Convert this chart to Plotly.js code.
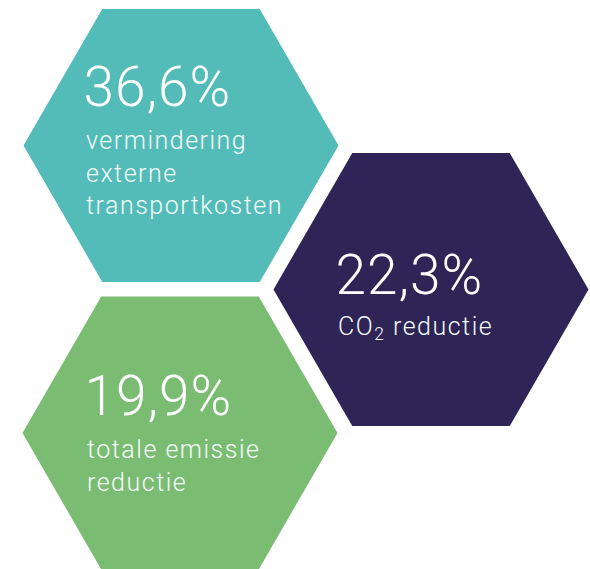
<!DOCTYPE html>
<html>
<head>
<meta charset="utf-8">
<script src="https://cdn.plot.ly/plotly-3.0.1.min.js"></script>
<style>
html,body{margin:0;padding:0;background:#fff;}
#chart{width:590px;height:569px;}
</style>
</head>
<body>
<div id="chart"></div>
<script>
// ---- data ----
var values = [36.6, 22.3, 19.9];
var labels = [
  ["vermindering", "externe", "transportkosten"],
  ["CO<sub>2</sub> reductie"],
  ["totale emissie", "reductie"]
];
var colors = ["#53bcb8", "#2e2455", "#7abd72"];

// ---- layout geometry (pixel space) ----
var W = 590, H = 569;
var centers = [[181, 145.5], [431, 289.5], [180, 433]];
var halfW = 157.5;               // centre to left/right vertex
var textX = [85, 337, 86];

function fmt(v) { return v.toFixed(1).replace('.', ',') + '%'; }

var traces = [];
var annotations = [];
centers.forEach(function (c, i) {
  var xs = [], ys = [];
  for (var k = 0; k <= 6; k++) {
    var a = Math.PI / 3 * k;
    xs.push(c[0] + halfW * Math.cos(a));
    ys.push(c[1] + halfW * Math.sin(a));
  }
  traces.push({
    type: 'scatter', mode: 'lines', x: xs, y: ys,
    fill: 'toself', fillcolor: colors[i],
    line: {width: 0, color: colors[i]}, hoverinfo: 'skip', showlegend: false
  });
});

var bigY = [87, 275, 396];
var subY = [173, 328, 466];
values.forEach(function (v, i) {
  annotations.push({
    x: textX[i], y: bigY[i], xref: 'x', yref: 'y',
    xanchor: 'left', yanchor: 'middle', showarrow: false, borderpad: 0,
    text: fmt(v),
    font: {family: 'Roboto', size: 55, color: '#ffffff', weight: 300}
  });
  annotations.push({
    x: textX[i], y: subY[i], xref: 'x', yref: 'y',
    xanchor: 'left', yanchor: 'middle', align: 'left', showarrow: false, borderpad: 0,
    text: labels[i].join('<br>'),
    font: {family: 'Roboto', size: 25, color: '#f4fbfa', weight: 300}
  });
});

var layout = {
  width: W, height: H,
  margin: {l: 0, r: 0, t: 0, b: 0},
  paper_bgcolor: '#ffffff', plot_bgcolor: '#ffffff',
  xaxis: {range: [0, W], visible: false, fixedrange: true},
  yaxis: {range: [H, 0], visible: false, fixedrange: true},
  annotations: annotations,
  showlegend: false
};

Plotly.newPlot('chart', traces, layout, {staticPlot: true, displayModeBar: false}).then(function () {
  var nodes = document.querySelectorAll('.annotation-text');
  nodes.forEach(function (n, idx) {
    n.style.letterSpacing = (idx % 2 === 0) ? '1px' : '1.5px';
  });
});
</script>
</body>
</html>
